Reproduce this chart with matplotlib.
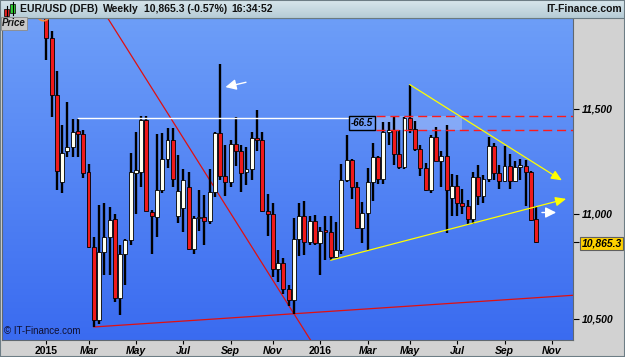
import datetime as dt
import numpy as np
import matplotlib
matplotlib.use('Agg')
import matplotlib.pyplot as plt
import matplotlib.dates as mdates
from matplotlib.colors import LinearSegmentedColormap
from matplotlib.patches import Rectangle
from matplotlib.transforms import blended_transform_factory

plt.rcParams['font.family'] = ['Liberation Sans', 'DejaVu Sans']

# weekly EUR/USD (DFB) bars, first bar = week of 5 Jan 2015
start = dt.date(2015, 1, 5)
opens = [11950, 11840, 11565, 11150, 11300, 11320, 11395, 11380, 11200, 10845,
         10495, 10820, 10890, 10975, 10600, 10810, 10875, 11195, 11200, 11447,
         11010, 10985, 11115, 11260, 11350, 10990, 11030, 11130, 10835, 10980,
         10985, 10965, 11105, 11385, 11180, 11150, 11335, 11300, 11200, 11215,
         11360, 11350, 11015, 11000, 10740, 10765, 10645, 10590, 10880, 10990,
         10865, 10965, 10860, 10920, 10915, 10795, 10830, 11160, 11255, 11130,
         10935, 11005, 11150, 11270, 11165, 11390, 11400, 11285, 11225, 11455,
         11405, 11310, 11220, 11115, 11365, 11250, 11275, 11075, 11135, 11050,
         11040, 10975, 11175, 11085, 11165, 11325, 11195, 11155, 11230, 11155,
         11225, 11230, 11200, 10975]
highs = [11970, 11870, 11680, 11425, 11535, 11450, 11450, 11400, 11240, 10890,
         11043, 11050, 11035, 11000, 10850, 10880, 11290, 11390, 11467, 11465,
         11020, 11380, 11385, 11410, 11410, 11280, 11215, 11200, 10990, 11115,
         11090, 11215, 11390, 11714, 11330, 11350, 11460, 11330, 11320, 11390,
         11495, 11390, 11095, 11050, 10830, 10790, 10660, 10980, 11050, 11060,
         10990, 10995, 10940, 10990, 10990, 10960, 11240, 11376, 11260, 11150,
         11055, 11218, 11340, 11275, 11440, 11440, 11465, 11400, 11460, 11616,
         11445, 11330, 11245, 11375, 11415, 11300, 11425, 11190, 11185, 11120,
         11065, 11200, 11235, 11185, 11365, 11340, 11235, 11325, 11285, 11250,
         11260, 11255, 11205, 11040]
lows = [11735, 11460, 11115, 11100, 11270, 11270, 11270, 11170, 10840, 10462,
        10475, 10710, 10710, 10580, 10520, 10660, 10850, 11000, 11130, 11020,
        10810, 10890, 11100, 11220, 11130, 10955, 10915, 10830, 10810, 10920,
        10850, 10950, 11080, 11160, 11085, 11130, 11230, 11105, 11140, 11160,
        11300, 11010, 10895, 10700, 10675, 10620, 10560, 10525, 10800, 10805,
        10850, 10850, 10710, 10780, 10780, 10790, 10810, 11150, 11070, 10930,
        10860, 10822, 11060, 11145, 11145, 11330, 11235, 11215, 11215, 11385,
        11300, 11180, 11110, 11098, 11250, 11130, 10910, 10990, 10990, 11000,
        10950, 10950, 11045, 11050, 11150, 11160, 11120, 11150, 11120, 11150,
        11160, 11040, 10965, 10860]
closes = [11840, 11565, 11205, 11290, 11320, 11390, 11380, 11195, 10845, 10495,
          10820, 10890, 10970, 10600, 10810, 10875, 11200, 11210, 11447, 11015,
          10990, 11115, 11260, 11350, 11165, 11110, 11160, 10835, 10980, 10985,
          10965, 11105, 11385, 11180, 11150, 11335, 11300, 11195, 11215, 11360,
          11350, 11015, 11000, 10740, 10765, 10645, 10590, 10880, 10990, 10865,
          10965, 10860, 10920, 10915, 10795, 10830, 11160, 11255, 11130, 10935,
          11005, 11150, 11270, 11165, 11390, 11400, 11285, 11225, 11455, 11405,
          11310, 11220, 11115, 11365, 11250, 11275, 11115, 11135, 11050, 11040,
          10975, 11175, 11085, 11165, 11325, 11195, 11155, 11230, 11155, 11225,
          11230, 11200, 10970, 10865.3]

last_price = 10865.3
yticks = [10500, 11000, 11500]
month_names = ['2015', 'Mar', 'May', 'Jul', 'Sep', 'Nov',
               '2016', 'Mar', 'May', 'Jul', 'Sep', 'Nov']

# drawn studies: (week index, price) anchors
red_steep = [(10, 11998), (51, 10366)]
red_low = [(9, 10462), (47, 10525)]
yellow_down = [(69, 11616), (97.9, 11160)]
yellow_up = [(54, 10780), (98.7, 11072)]
box_level = (11400, 11466.5)


def wk(i):
    return mdates.date2num(start) + 7 * i


def px(x, y):
    return (x / 625, 1 - y / 357)


dates = mdates.date2num([start + dt.timedelta(weeks=i) for i in range(len(opens))])
o = np.array(opens, float)
h = np.array(highs, float)
l = np.array(lows, float)
c = np.array(closes, float)

fig = plt.figure(figsize=(6.25, 3.57), dpi=100)
fig.patch.set_facecolor('#d2d2d2')

ax = fig.add_axes([2 / 625, 17 / 357, 571 / 625, 322 / 357])
x0 = mdates.date2num(dt.date(2014, 11, 7))
x1 = mdates.date2num(dt.date(2016, 12, 5))
ax.set_xlim(x0, x1)
ax.set_ylim(10400, 11933)

bg = LinearSegmentedColormap.from_list('bg', ['#6d9ef8', '#3a6bf0'])
ax.imshow(np.linspace(0, 1, 256).reshape(-1, 1), cmap=bg, aspect='auto',
          extent=[0, 1, 0, 1], transform=ax.transAxes, zorder=0, origin='upper')

# candles
ax.vlines(dates, l, h, color='black', lw=1.7, zorder=3)
up = c >= o
body_h = np.maximum(np.abs(c - o), 7)
ax.bar(dates, body_h, bottom=np.minimum(o, c), width=5.2,
       color=np.where(up, '#fffff0', '#f01a1a'), edgecolor='black',
       linewidth=0.6, zorder=4)

# studies
(a, pa), (b, pb) = red_steep
ax.plot([wk(a), wk(b)], [pa, pb], color='#e01010', lw=0.9, zorder=2)
(a, pa), (b, pb) = red_low
slope = (pb - pa) / (b - a)
ax.plot([wk(a), wk(101)], [pa, pa + slope * (101 - a)], color='#e01010', lw=0.9, zorder=2)

ax.plot([wk(6), wk(57.5)], [11455, 11455], color='white', lw=1.0, zorder=5)
ax.text(wk(59.9), 11434, '-66.5', fontsize=7, fontweight='bold', style='italic',
        ha='center', va='center', zorder=6,
        bbox=dict(boxstyle='square,pad=0.2', fc='#6e9cf7', ec='black', lw=1))
ax.add_patch(Rectangle((wk(62.6), box_level[0]), wk(79) - wk(62.6),
                       box_level[1] - box_level[0], fc='white', alpha=0.25,
                       ec='none', zorder=2))
ax.hlines(box_level, wk(62.6), x1, colors='#ff1a1a', lw=1.0,
          linestyles=(0, (6.5, 3.5)), zorder=5)

for seg in (yellow_down, yellow_up):
    (a, pa), (b, pb) = seg
    ax.annotate('', xy=(wk(b), pb), xytext=(wk(a), pa), zorder=6,
                arrowprops=dict(arrowstyle='-|>,head_length=0.8,head_width=0.35',
                                color='#ffff00', lw=0.9, mutation_scale=8,
                                shrinkA=0, shrinkB=0))
ax.annotate('', xy=(wk(34), 11604), xytext=(wk(37.9), 11627), zorder=6,
            arrowprops=dict(arrowstyle='-|>,head_length=0.8,head_width=0.4',
                            color='white', lw=1.0, mutation_scale=8,
                            shrinkA=0, shrinkB=0))
ax.annotate('', xy=(wk(96.8), 11007), xytext=(wk(94.1), 11007), zorder=6,
            arrowprops=dict(arrowstyle='-|>,head_length=0.8,head_width=0.4',
                            color='white', lw=1.0, mutation_scale=8,
                            shrinkA=0, shrinkB=0))
ax.plot([wk(-0.6)], [11950], 'o', ms=9, mfc='none', mec='#f08a40', mew=1.2,
        zorder=6, clip_on=True)

ax.text(0.003, 0.012, '\u00a9 IT-Finance.com', transform=ax.transAxes,
        fontsize=7, color='#101030', va='bottom', ha='left', zorder=7)

# axes styling
for s in ax.spines.values():
    s.set_color('#606870')
    s.set_linewidth(0.8)

ax.yaxis.tick_right()
ax.set_yticks(yticks + [last_price])
ax.set_yticklabels([f'{v:,}' for v in yticks] + [f'{last_price:,.1f}'])
ax.tick_params(axis='y', direction='out', length=4, width=0.8, pad=2,
               labelsize=7.5, colors='black')
for t in ax.get_yticklabels():
    t.set_fontweight('bold')
    t.set_style('italic')
ax.get_yticklabels()[-1].set_bbox(dict(boxstyle='square,pad=0.15', fc='#ffd200',
                                       ec='#606060', lw=0.8))
ax.yaxis.get_major_ticks()[-1].tick2line.set_color('black')

# ticks on the first weekly bar of each month
tick_dates = []
for yr, mo in [(2015, 1), (2015, 3), (2015, 5), (2015, 7), (2015, 9), (2015, 11),
               (2016, 1), (2016, 3), (2016, 5), (2016, 7), (2016, 9), (2016, 11)]:
    d = dt.date(yr, mo, 1)
    while d.weekday() != 0:
        d += dt.timedelta(days=1)
    tick_dates.append(mdates.date2num(d))
ax.set_xticks(tick_dates)
ax.set_xticklabels(month_names)
ax.tick_params(axis='x', direction='out', length=3, width=0.8, pad=1.5,
               labelsize=7.5, colors='black')
for t in ax.get_xticklabels():
    t.set_fontweight('bold')
    if not t.get_text().isdigit():
        t.set_style('italic')

# header bar
hax = fig.add_axes([0, 339 / 357, 1, 18 / 357])
hdr = LinearSegmentedColormap.from_list('hdr', ['#d8e6ec', '#b6ccd6'])
hax.imshow(np.linspace(0, 1, 64).reshape(-1, 1), cmap=hdr, aspect='auto',
           extent=[0, 1, 0, 1], origin='upper')
hax.set_xlim(0, 1)
hax.set_ylim(0, 1)
hax.axis('off')
fig.add_artist(plt.Line2D([0, 1], [339 / 357, 339 / 357], color='#6a7a82', lw=0.8))

# header candlestick icon
fig.add_artist(plt.Line2D([px(6.5, 6)[0]] * 2, [px(0, 6)[1], px(0, 17)[1]], color='black', lw=0.8))
fig.add_artist(Rectangle(px(4, 16), 5 / 625, 7 / 357, fc='#e02020', ec='black', lw=0.5))
fig.add_artist(plt.Line2D([px(12.5, 0)[0]] * 2, [px(0, 2)[1], px(0, 15)[1]], color='black', lw=0.8))
fig.add_artist(Rectangle(px(10, 13), 5 / 625, 9 / 357, fc='#30d030', ec='black', lw=0.5))

hstyle = dict(fontsize=7.5, fontweight='bold', va='center', color='#111111')
fig.text(*px(20, 9), 'EUR/USD (DFB)', ha='left', **hstyle)
fig.text(*px(103, 9), 'Weekly', ha='left', **hstyle)
fig.text(*px(144, 9), '10,865.3 (-0.57%)', ha='left', **hstyle)
fig.text(*px(231, 9), '16:34:52', ha='left', **hstyle)
fig.text(*px(622, 9), 'IT-Finance.com', ha='right', **hstyle)

fig.text(*px(2, 23.5), 'Price', ha='left', va='center', fontsize=7,
         fontweight='bold', style='italic', color='#111111',
         bbox=dict(boxstyle='square,pad=0.15', fc='#c8c8c8', ec='#8a8a8a', lw=0.6))

fig.add_artist(Rectangle((0, 0), 1, 1, transform=fig.transFigure, fill=False,
                         ec='#6d7d85', lw=1.5))

fig.savefig('out.png', dpi=100)
